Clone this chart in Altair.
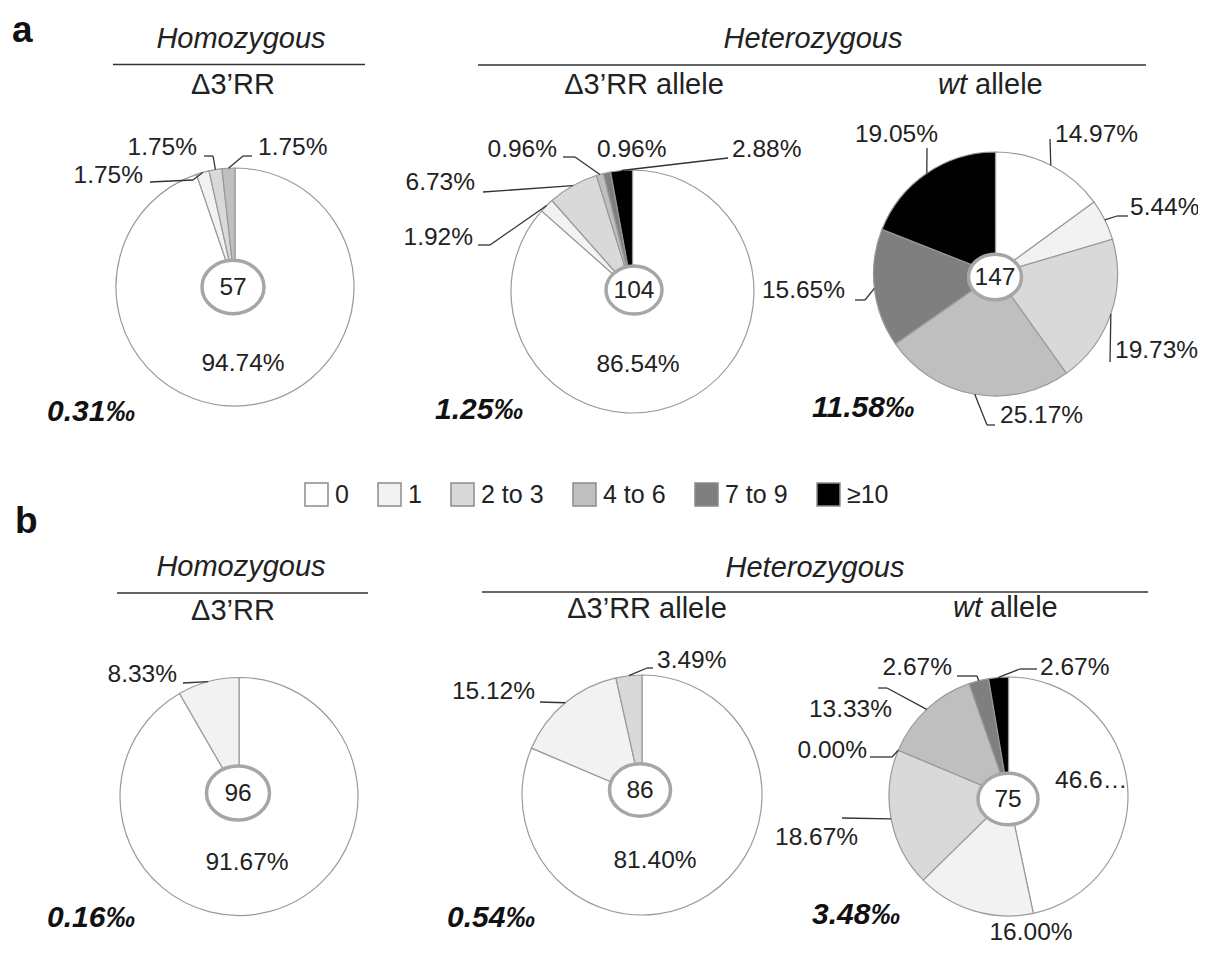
import math
import altair as alt
import pandas as pd

# ---------------- data ----------------
CATEGORIES = ["0", "1", "2 to 3", "4 to 6", "7 to 9", "≥10"]

a_hom_cat = ["0", "1", "2 to 3", "4 to 6"]
a_hom_pct = [94.74, 1.75, 1.75, 1.75]
a_het_cat = ["0", "1", "2 to 3", "4 to 6", "7 to 9", "≥10"]
a_het_pct = [86.54, 1.92, 6.73, 0.96, 0.96, 2.88]
a_wt_cat = ["0", "1", "2 to 3", "4 to 6", "7 to 9", "≥10"]
a_wt_pct = [14.97, 5.44, 19.73, 25.17, 15.65, 19.05]
b_hom_cat = ["0", "1"]
b_hom_pct = [91.67, 8.33]
b_het_cat = ["0", "1", "2 to 3"]
b_het_pct = [81.40, 15.12, 3.49]
b_wt_cat = ["0", "1", "2 to 3", "4 to 6", "4 to 6", "7 to 9", "≥10"]
b_wt_pct = [46.67, 16.00, 18.67, 0.00, 13.33, 2.67, 2.67]

PIE_IDS = ["a_hom", "a_het", "a_wt", "b_hom", "b_het", "b_wt"]
N_SEQ = [57, 104, 147, 96, 86, 75]
FREQ_PERMIL = ["0.31", "1.25", "11.58", "0.16", "0.54", "3.48"]

PANELS = ["a", "b"]
GROUP_TITLES = ["Homozygous", "Heterozygous"]
SUB_TITLES = ["Δ3’RR", "Δ3’RR allele", "wt", "allele"]

# ---------------- styles / layout (page pixels) ----------------
SHADES = ["#ffffff", "#f2f2f2", "#d9d9d9", "#bfbfbf", "#7f7f7f", "#000000"]
FONT = "Liberation Sans"
INK = "#222222"

PIE_GEOM = {  # centre x, centre y, radius
    "a_hom": (235, 287, 119),
    "a_het": (632.5, 291.5, 121.5),
    "a_wt": (995.5, 274, 122),
    "b_hom": (239, 796.5, 119),
    "b_het": (642, 795, 120),
    "b_wt": (1008.5, 796.5, 119.5),
}
RING = {  # centre x, centre y, width
    "a_hom": (233, 287, 62),
    "a_het": (634, 290, 56),
    "a_wt": (995, 277, 53),
    "b_hom": (238, 793, 63),
    "b_het": (640, 790, 61),
    "b_wt": (1008, 799, 60),
}
LABEL_POS = {  # align, x, baseline y, leader points (ending at the slice)
    "a_hom": [("center", 243, 371, []),
              ("right", 143, 183, [(150, 182), (193, 180)]),
              ("right", 197, 155, [(204, 156), (213, 156)]),
              ("left", 258, 155, [(252, 156), (243, 156)])],
    "a_het": [("center", 638, 372, []),
              ("right", 473, 245, [(478, 245), (490, 245)]),
              ("right", 475, 190, [(483, 192)]),
              ("right", 557, 157, [(563, 157), (575, 157)]),
              ("left", 597, 157, []),
              ("left", 732, 157, [(728, 158)])],
    "a_wt": [("left", 1055, 142, [(1050, 139)]),
             ("left", 1130, 215, [(1128, 216), (1117, 216)]),
             ("left", 1115, 358, [(1110, 362)]),
             ("left", 1000, 423, [(995, 425), (987, 425)]),
             ("right", 845, 298, [(855, 300), (865, 300)]),
             ("right", 938, 142, [(927, 148)])],
    "b_hom": [("center", 247, 870, []),
              ("right", 177, 682, [(183, 683)])],
    "b_het": [("center", 655, 868, []),
              ("right", 535, 699, [(540, 702)]),
              ("left", 657, 668, [(653, 668), (647, 668)])],
    "b_wt": [("left", 1055, 788, []),
             ("center", 1031, 940, []),
             ("left", 775, 845, [(842, 818)]),
             ("right", 867, 758, [(870, 757), (892, 757)]),
             ("right", 892, 717, [(878, 688), (887, 688)]),
             ("right", 952, 675, [(957, 676), (977, 676)]),
             ("left", 1040, 675, [(1037, 669), (1020, 669)])],
}
LABEL_LIMIT = {("b_wt", 0): 75}
PERMIL_POS = {"a_hom": (47, 421), "a_het": (435, 419), "a_wt": (812, 417),
              "b_hom": (47, 927), "b_het": (447, 927), "b_wt": (812, 924)}
PANEL_POS = [(12, 42), (15, 533)]
HEAD_TEXT = [  # (text, x, y, align, italic)
    (GROUP_TITLES[0], 241, 48, "center", True),
    (GROUP_TITLES[1], 813, 48, "center", True),
    (SUB_TITLES[0], 233, 94, "center", False),
    (SUB_TITLES[1], 644, 94, "center", False),
    (SUB_TITLES[2], 938, 94, "left", True),
    (SUB_TITLES[3], 975, 94, "left", False),
    (GROUP_TITLES[0], 241, 576, "center", True),
    (GROUP_TITLES[1], 815, 577, "center", True),
    (SUB_TITLES[0], 233, 620, "center", False),
    (SUB_TITLES[1], 647, 618, "center", False),
    (SUB_TITLES[2], 953, 617, "left", True),
    (SUB_TITLES[3], 990, 617, "left", False),
]
HEAD_RULES = [(113, 64.5, 365, 64.5), (478, 65, 1146, 65),
              (117, 593, 368, 593), (482, 592, 1148, 592)]

ELLIPSE = ("M1,0C1,0.475 0.552,0.86 0,0.86C-0.552,0.86 -1,0.475 -1,0"
           "C-1,-0.475 -0.552,-0.86 0,-0.86C0.552,-0.86 1,-0.475 1,0Z")

# ---------------- tables ----------------
PIES = {
    "a_hom": (a_hom_cat, a_hom_pct), "a_het": (a_het_cat, a_het_pct),
    "a_wt": (a_wt_cat, a_wt_pct), "b_hom": (b_hom_cat, b_hom_pct),
    "b_het": (b_het_cat, b_het_pct), "b_wt": (b_wt_cat, b_wt_pct),
}
slices, labels, segs = [], [], []
for pid, (cats, pcts) in PIES.items():
    cx, cy, r = PIE_GEOM[pid]
    total = sum(pcts)
    cum = 0.0
    for i, (c, p) in enumerate(zip(cats, pcts)):
        mid = (cum + p / 2) / total
        cum += p
        slices.append(dict(pie=pid, idx=i, cat=c, pct=p, cx=cx, cy=cy, r=r))
        align, lx, ly, lead = LABEL_POS[pid][i]
        labels.append(dict(text=f"{p:.2f}%", x=lx, y=ly, align=align,
                           trunc=(pid, i) in LABEL_LIMIT))
        if lead:
            ang = 2 * math.pi * mid
            pts = lead + [(cx + r * math.sin(ang), cy - r * math.cos(ang))]
            for (x1, y1), (x2, y2) in zip(pts[:-1], pts[1:]):
                segs.append(dict(x=x1, y=y1, x2=x2, y2=y2))

slice_df = pd.DataFrame(slices)
label_df = pd.DataFrame(labels)
seg_df = pd.DataFrame(segs + [dict(x=a, y=b, x2=c, y2=d) for a, b, c, d in HEAD_RULES])
ring_df = pd.DataFrame([dict(x=RING[p][0], y=RING[p][1], s=RING[p][2] ** 2, n=str(n))
                        for p, n in zip(PIE_IDS, N_SEQ)])
permil_df = pd.DataFrame([dict(x=PERMIL_POS[p][0], y=PERMIL_POS[p][1], text=f + "‰")
                          for p, f in zip(PIE_IDS, FREQ_PERMIL)])
panel_df = pd.DataFrame([dict(x=x, y=y, text=t) for t, (x, y) in zip(PANELS, PANEL_POS)])
head_df = pd.DataFrame([dict(text=t, x=x, y=y, align=a, it=it) for t, x, y, a, it in HEAD_TEXT])

XS = alt.Scale(domain=[8, 1198], range=[0, 1190], nice=False, zero=False)
YS = alt.Scale(domain=[8, 948], range=[0, 940], nice=False, zero=False)


def xy(xf="x", yf="y"):
    return dict(x=alt.X(f"{xf}:Q", scale=XS, axis=None),
                y=alt.Y(f"{yf}:Q", scale=YS, axis=None))


arcs = (
    alt.Chart(slice_df)
    .transform_joinaggregate(total="sum(pct)", groupby=["pie"])
    .transform_window(cum="sum(pct)", groupby=["pie"],
                      sort=[alt.SortField("idx", order="ascending")], frame=[None, 0])
    .transform_calculate(t0="(datum.cum - datum.pct) / datum.total",
                         t1="datum.cum / datum.total")
    .mark_arc(stroke="#9a9a9a", strokeWidth=1.2)
    .encode(
        **xy("cx", "cy"),
        theta=alt.Theta("t0:Q", scale=alt.Scale(domain=[0, 1], range=[0, 2 * math.pi]), stack=False),
        theta2="t1:Q",
        radius=alt.Radius("r:Q", scale=None),
        color=alt.Color("cat:N", scale=alt.Scale(domain=CATEGORIES, range=SHADES),
                        legend=alt.Legend(title=None, orient="none", legendX=296, legendY=474,
                                          direction="horizontal", columns=6,
                                          symbolType="square", symbolSize=529,
                                          symbolStrokeColor="#8c8c8c", symbolStrokeWidth=1.5,
                                          labelFont=FONT, labelFontSize=25, labelColor=INK,
                                          labelOffset=6, columnPadding=26, padding=0,
                                          labelLimit=300)),
    )
)

rules = alt.Chart(seg_df).mark_rule(color="#333333", strokeWidth=1.3).encode(
    **xy(), x2="x2:Q", y2="y2:Q")

rings = alt.Chart(ring_df).mark_point(shape=ELLIPSE, filled=True, fill="white",
                                      stroke="#a6a6a6", strokeWidth=3.5, opacity=1).encode(
    **xy(), size=alt.Size("s:Q", scale=None))

counts = alt.Chart(ring_df).mark_text(font=FONT, fontSize=24.5, color=INK,
                                      baseline="middle", dy=1).encode(**xy(), text="n:N")

label_layers = []
for al in ["left", "right", "center"]:
    label_layers.append(
        alt.Chart(label_df).transform_filter(
            f"datum.align == '{al}' && !datum.trunc").mark_text(
            font=FONT, fontSize=24.5, color=INK, align=al, baseline="alphabetic").encode(
            **xy(), text="text:N"))
label_layers.append(
    alt.Chart(label_df).transform_filter("datum.trunc").mark_text(
        font=FONT, fontSize=24.5, color=INK, align="left", baseline="alphabetic",
        limit=LABEL_LIMIT[("b_wt", 0)]).encode(**xy(), text="text:N"))

permil = alt.Chart(permil_df).mark_text(font=FONT, fontSize=30, fontWeight="bold",
                                        fontStyle="italic", color="#111111", align="left",
                                        baseline="alphabetic").encode(**xy(), text="text:N")

panels = alt.Chart(panel_df).mark_text(font=FONT, fontSize=37, fontWeight="bold",
                                       color="#111111", align="left",
                                       baseline="alphabetic").encode(**xy(), text="text:N")

head_layers = []
for al in ["left", "center"]:
    for it in [True, False]:
        head_layers.append(
            alt.Chart(head_df).transform_filter(
                f"datum.align == '{al}' && datum.it == {str(it).lower()}").mark_text(
                font=FONT, fontSize=29, fontStyle="italic" if it else "normal",
                color=INK, align=al, baseline="alphabetic").encode(**xy(), text="text:N"))

chart = alt.layer(arcs, rules, rings, counts, *label_layers, permil, panels, *head_layers).properties(
    width=1190, height=940, autosize=alt.AutoSizeParams(type="none"), padding=0,
    background="white",
).configure_view(strokeWidth=0)

chart.save("out.html", embed_options={"renderer": "svg", "actions": False})
